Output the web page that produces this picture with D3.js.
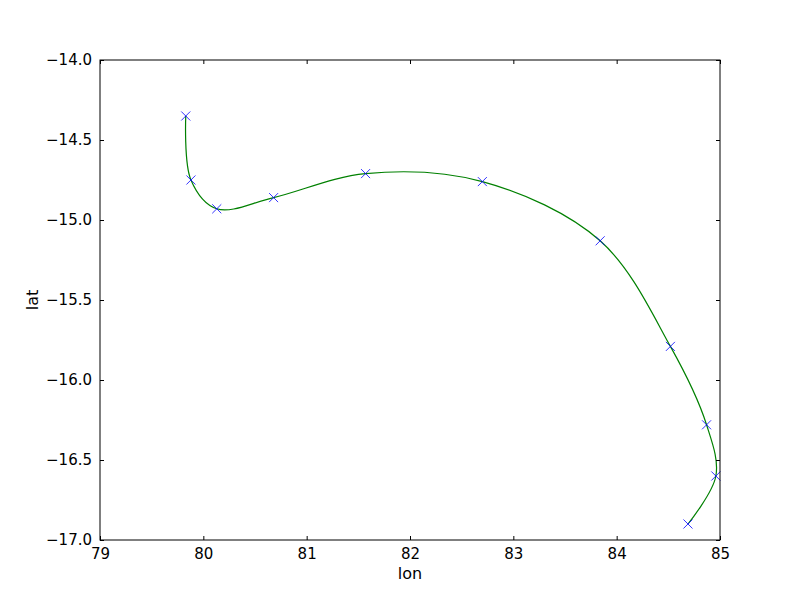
<!DOCTYPE html>
<html>
<head>
<meta charset="utf-8">
<script src="https://cdn.jsdelivr.net/npm/d3@7"></script>
<style>
  body { margin: 0; background: #ffffff; }
  text { font-family: "DejaVu Sans", sans-serif; }
</style>
</head>
<body>
<div id="chart"></div>
<script>
// track points
var lonValues = [79.83, 79.88, 80.13, 80.68, 81.57, 82.70, 83.84, 84.52, 84.87, 84.96, 84.69];
var latValues = [-14.35, -14.75, -14.93, -14.86, -14.71, -14.76, -15.13, -15.79, -16.28, -16.60, -16.90];
var xTicks = [79, 80, 81, 82, 83, 84, 85];
var yTicks = [-17.0, -16.5, -16.0, -15.5, -15.0, -14.5, -14.0];

var width = 800, height = 600;
var margin = { top: 60, right: 80, bottom: 60, left: 100 };

var svg = d3.select("#chart").append("svg")
    .attr("width", width).attr("height", height);

var x = d3.scaleLinear().domain([79, 85]).range([margin.left, width - margin.right]);
var y = d3.scaleLinear().domain([-17, -14]).range([height - margin.bottom, margin.top]);

var points = lonValues.map(function(d, i) { return [d, latValues[i]]; });

svg.append("clipPath").attr("id", "plotclip")
   .append("rect")
   .attr("x", margin.left).attr("y", margin.top)
   .attr("width", width - margin.left - margin.right)
   .attr("height", height - margin.top - margin.bottom);

// smooth track
var line = d3.line()
    .x(function(d) { return x(d[0]); })
    .y(function(d) { return y(d[1]); })
    .curve(d3.curveCatmullRom.alpha(0.5));

svg.append("path")
   .datum(points)
   .attr("clip-path", "url(#plotclip)")
   .attr("d", line)
   .style("fill", "none")
   .style("stroke", "#008000")
   .style("stroke-width", 1.2);

// x markers
var marker = d3.symbol().type(d3.symbolX).size(55);
svg.selectAll(".pt").data(points).enter().append("path")
   .attr("class", "pt")
   .attr("transform", function(d) { return "translate(" + x(d[0]) + "," + y(d[1]) + ")"; })
   .attr("d", marker)
   .style("fill", "none")
   .style("stroke", "#0000ff")
   .style("stroke-width", 0.8);

// axes, ticks pointing inward on all four sides
var fmtY = function(d) { return d3.format(".1f")(d).replace("-", "\u2212"); };

var axisBottomG = svg.append("g").attr("transform", "translate(0," + (height - margin.bottom) + ")")
   .call(d3.axisBottom(x).tickValues(xTicks).tickSizeInner(-4).tickSizeOuter(0).tickPadding(8).tickFormat(d3.format("d")));
var axisLeftG = svg.append("g").attr("transform", "translate(" + margin.left + ",0)")
   .call(d3.axisLeft(y).tickValues(yTicks).tickSizeInner(-4).tickSizeOuter(0).tickPadding(8).tickFormat(fmtY));
var axisTopG = svg.append("g").attr("transform", "translate(0," + margin.top + ")")
   .call(d3.axisTop(x).tickValues(xTicks).tickSizeInner(-4).tickSizeOuter(0).tickFormat(""));
var axisRightG = svg.append("g").attr("transform", "translate(" + (width - margin.right) + ",0)")
   .call(d3.axisRight(y).tickValues(yTicks).tickSizeInner(-4).tickSizeOuter(0).tickFormat(""));

[axisBottomG, axisLeftG, axisTopG, axisRightG].forEach(function(g) {
  g.select(".domain").remove();
  g.selectAll("line").style("stroke", "#000").style("stroke-width", 1);
  g.selectAll("text").style("font-size", "15px").style("fill", "#000")
   .style("font-family", "DejaVu Sans, sans-serif");
});

svg.append("rect")
   .attr("x", margin.left).attr("y", margin.top)
   .attr("width", width - margin.left - margin.right)
   .attr("height", height - margin.top - margin.bottom)
   .style("fill", "none").style("stroke", "#000").style("stroke-width", 1);

svg.append("text")
   .attr("x", (margin.left + width - margin.right) / 2).attr("y", 579)
   .attr("text-anchor", "middle").style("font-size", "16px")
   .text("lon");

svg.append("text")
   .attr("transform", "translate(38," + ((margin.top + height - margin.bottom) / 2) + ") rotate(-90)")
   .attr("text-anchor", "middle").style("font-size", "16px")
   .text("lat");
</script>
</body>
</html>
